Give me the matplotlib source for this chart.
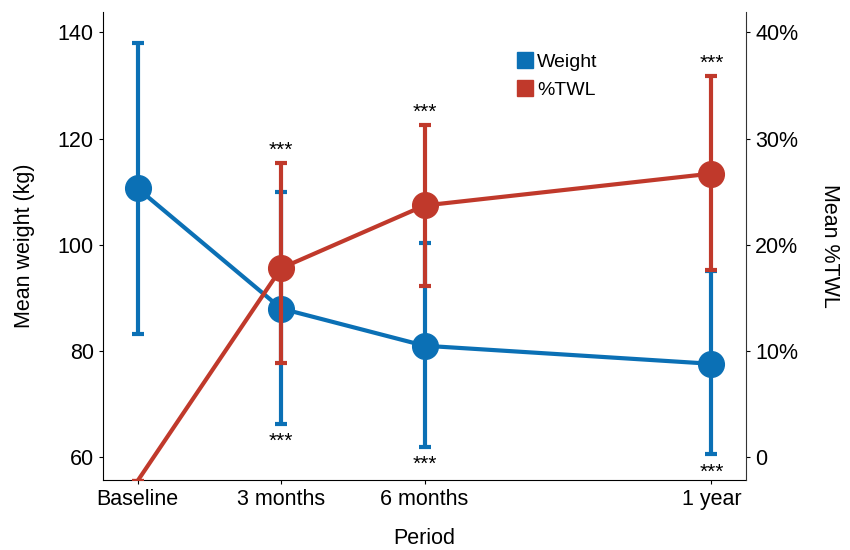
"""Mean weight and %TWL over follow-up period (dual axis)."""
import matplotlib
matplotlib.use('Agg')
import matplotlib.pyplot as plt
from matplotlib.lines import Line2D

plt.rcParams['font.family'] = ['Liberation Sans', 'DejaVu Sans']

# ── Data ──────────────────────────────────────────────────────────────────
periods = ['Baseline', '3 months', '6 months', '1 year']
months = [0, 3, 6, 12]

weight_mean = [110.6, 88.0, 81.0, 77.6]
weight_err_lo = [27.4, 21.7, 19.0, 17.0]
weight_err_hi = [27.3, 21.9, 19.3, 17.4]

twl_mean = [-2.2, 17.8, 23.7, 26.7]
twl_err_lo = [0.0, 8.9, 7.6, 9.1]
twl_err_hi = [0.0, 9.9, 7.6, 9.2]

weight_stars = ['', '***', '***', '***']
twl_stars = ['', '***', '***', '***']

BLUE = '#0b70b5'
RED = '#c0392b'

# ── Figure ────────────────────────────────────────────────────────────────
fig = plt.figure(figsize=(8.5, 5.5), dpi=100)
ax = fig.add_axes([0.121, 0.127, 0.757, 0.851])
ax2 = ax.twinx()

ax.errorbar(months, weight_mean, yerr=[weight_err_lo, weight_err_hi],
            color=BLUE, lw=3, marker='o', ms=18.5, elinewidth=3,
            capsize=4, capthick=3, zorder=3)
ax2.errorbar(months, twl_mean, yerr=[twl_err_lo, twl_err_hi],
             color=RED, lw=3, marker='o', ms=18.5, markevery=[1, 2, 3],
             elinewidth=3, capsize=4, capthick=3, zorder=3)

# significance stars
for m, v, e, st in zip(months, weight_mean, weight_err_lo, weight_stars):
    if st:
        ax.annotate(st, (m, v - e), xytext=(0, -6), textcoords='offset points',
                    ha='center', va='top', fontsize=15, color='black')
for m, v, e, st in zip(months, twl_mean, twl_err_hi, twl_stars):
    if st:
        ax2.annotate(st, (m, v + e), xytext=(0, 2), textcoords='offset points',
                     ha='center', va='bottom', fontsize=15, color='black')

# ── Axes ──────────────────────────────────────────────────────────────────
ax.set_xlim(-0.73, 12.73)
ax.set_ylim(55.7, 143.8)
ax2.set_ylim(-2.15, 41.9)

ax.set_xticks(months)
ax.set_xticklabels(periods)
ax.set_yticks([60, 80, 100, 120, 140])
ax2.set_yticks([0, 10, 20, 30, 40])
ax2.set_yticklabels(['0', '10%', '20%', '30%', '40%'])

for a in (ax, ax2):
    a.spines['top'].set_visible(False)
    a.tick_params(labelsize=15.5, length=3, width=0.8, colors='black')
ax.spines['right'].set_visible(False)
ax2.spines['left'].set_visible(False)
ax2.spines['bottom'].set_visible(False)
ax2.spines['right'].set_color('#333333')

ax.set_xlabel('Period', fontsize=15.5, labelpad=13)
ax.set_ylabel('Mean weight (kg)', fontsize=15.5, labelpad=16)
ax2.set_ylabel('Mean %TWL', fontsize=15.5, rotation=270, labelpad=30)

handles = [Line2D([], [], ls='none', marker='s', ms=11, color=BLUE),
           Line2D([], [], ls='none', marker='s', ms=11, color=RED)]
ax2.legend(handles, ['Weight', '%TWL'], loc='upper left',
           bbox_to_anchor=(0.61, 0.95), frameon=False, fontsize=14,
           handletextpad=0.05, labelspacing=0.55, handlelength=1.2)

fig.savefig('out.png', dpi=100, facecolor='white')
